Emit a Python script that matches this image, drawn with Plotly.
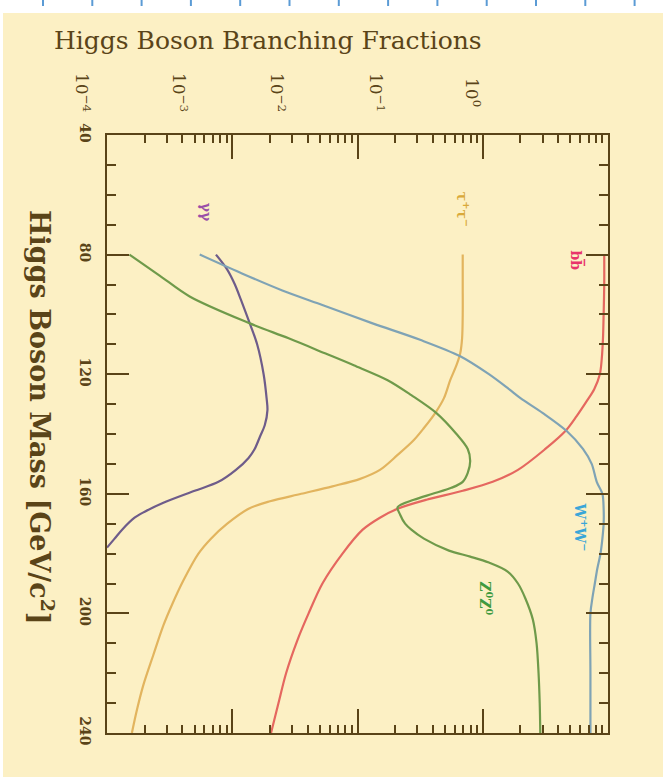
import math
import plotly.graph_objects as go

# Higgs mass (GeV/c^2) and branching fractions
mass_bb = [80, 90, 100, 108, 115, 120, 125, 129, 134, 139, 145, 152, 156, 159, 162, 165, 168, 172, 180, 190, 200, 209, 220, 230, 240]
bf_bb = [0.933, 0.933, 0.923, 0.912, 0.891, 0.861, 0.776, 0.676, 0.562, 0.457, 0.316, 0.191, 0.120, 0.0692, 0.0355,
         0.0209, 0.0151, 0.0110, 0.00759, 0.00525, 0.00407, 0.00331, 0.00269, 0.00234, 0.00204]

mass_tau = [80, 90, 100, 108, 113, 117, 122, 128, 133, 138, 142, 147, 152, 155, 157.5, 160, 162.5, 165, 170, 175,
            180, 189, 197, 204, 214, 224, 232, 240]
bf_tau = [0.0692, 0.0692, 0.0692, 0.0684, 0.0661, 0.0617, 0.0550, 0.0490, 0.0417, 0.0339, 0.0282, 0.0209, 0.0151,
          0.0105, 0.00631, 0.00355, 0.00200, 0.00135, 0.000912, 0.000676, 0.000537, 0.000407, 0.000331, 0.000282,
          0.000234, 0.000195, 0.000174, 0.000158]

mass_gg = [80, 85, 90, 95, 103, 110, 120, 128, 132, 137, 141, 145, 148, 152, 156, 159, 163, 166, 168, 172, 175, 178]
bf_gg = [0.000741, 0.000912, 0.00105, 0.00117, 0.00138, 0.00158, 0.00178, 0.00188, 0.00191, 0.00182, 0.00166,
         0.00151, 0.00135, 0.00107, 0.000776, 0.000501, 0.000282, 0.000200, 0.000166, 0.000132, 0.000115, 0.000100]

mass_ww = [80, 86, 92, 97, 103, 108.5, 114, 120, 125, 128, 133, 139, 145, 150, 156, 160, 165, 170, 175, 180, 185,
           190, 195, 200, 220, 240]
bf_ww = [0.000550, 0.00115, 0.00251, 0.00537, 0.0132, 0.0316, 0.0661, 0.112, 0.162, 0.200, 0.302, 0.468, 0.631,
         0.741, 0.813, 0.902, 0.923, 0.923, 0.902, 0.871, 0.822, 0.785, 0.750, 0.724, 0.724, 0.724]

mass_zz = [80, 87, 94, 103, 108, 113, 117, 122, 127, 133, 140, 145, 149, 153, 156, 158, 160, 162, 164.5, 167, 170,
           172, 175, 179, 181, 183, 186, 190, 195, 202, 210, 220, 230, 240]
bf_zz = [0.000151, 0.000263, 0.000457, 0.00138, 0.00282, 0.00550, 0.00933, 0.0174, 0.0269, 0.0427, 0.0617, 0.0759,
         0.0794, 0.0759, 0.0692, 0.0562, 0.0398, 0.0282, 0.0209, 0.0219, 0.0240, 0.0269, 0.0339, 0.0537, 0.0794,
         0.112, 0.158, 0.191, 0.219, 0.251, 0.269, 0.279, 0.285, 0.288]

mass_ticks = [40, 80, 120, 160, 200, 240]
bf_tick_text = ["10<sup>\u22124</sup>", "10<sup>\u22123</sup>", "10<sup>\u22122</sup>", "10<sup>\u22121</sup>", "10<sup>0</sup>"]

BG = "#fcf0c4"
INK = "#5a4418"

fig = go.Figure()
series = [
    (bf_bb, mass_bb, "#e5675f", "bb\u0305"),
    (bf_tau, mass_tau, "#e2b45e", "\u03c4\u207a\u03c4\u207b"),
    (bf_gg, mass_gg, "#6e5c8a", "\u03b3\u03b3"),
    (bf_ww, mass_ww, "#7fa3b5", "W\u207aW\u207b"),
    (bf_zz, mass_zz, "#6f9a4a", "Z\u2070Z\u2070"),
]
for xs, ys, col, name in series:
    fig.add_trace(go.Scatter(x=xs, y=ys, mode="lines", name=name,
                             line=dict(color=col, width=2.2, shape="spline", smoothing=0.9),
                             showlegend=False, cliponaxis=True))

axis_common = dict(showline=True, linecolor=INK, linewidth=2, mirror="allticks", ticks="inside",
                   tickcolor=INK, tickwidth=2, showgrid=False, zeroline=False)
fig.update_xaxes(type="log", range=[-4, 0], dtick=1, ticklen=24, showticklabels=False,
                 minor=dict(ticks="inside", ticklen=8, tickcolor=INK, tickwidth=2, dtick="D1", showgrid=False),
                 **axis_common)
fig.update_yaxes(range=[240, 40], tickvals=mass_ticks, ticklen=22, tickangle=90,
                 ticklabelstandoff=8,
                 tickfont=dict(family="DejaVu Serif", size=14, color=INK, weight="bold"),
                 minor=dict(ticks="inside", ticklen=9, tickcolor=INK, tickwidth=2, dtick=10, showgrid=False),
                 **axis_common)


def px_x(px):
    return (px - 107) / 501


def px_y(py):
    return (733 - py) / 598


# top tick labels (as printed, compressed relative to the axis)
label_px = [83, 180, 278, 377, 473]
for px, txt in zip(label_px, bf_tick_text):
    fig.add_annotation(text=txt, x=px_x(px), y=px_y(92), xref="paper", yref="paper",
                       xanchor="center", yanchor="middle",
                       showarrow=False, textangle=90,
                       font=dict(family="DejaVu Serif", size=17, color=INK))

# curve labels (positions in data coords)
curve_labels = [
    ("bb\u0305", 10 ** -0.247, 82, "#e8336b"),
    ("\u03c4<sup>+</sup>\u03c4<sup>\u2212</sup>", 10 ** -1.158, 65, "#d9a93a"),
    ("\u03b3\u03b3", 10 ** -3.21, 66, "#9a4fa8"),
    ("W<sup>+</sup>W<sup>\u2212</sup>", 10 ** -0.215, 171, "#3aa6d8"),
    ("Z<sup>0</sup>Z<sup>0</sup>", 10 ** -0.98, 195, "#3f9a3f"),
]
for txt, xv, yv, col in curve_labels:
    fig.add_annotation(text=txt, x=math.log10(xv), y=yv, showarrow=False, textangle=90,
                       xanchor="center", yanchor="middle",
                       font=dict(family="DejaVu Serif", size=14, color=col, weight="bold"))

fig.add_annotation(text="Higgs Boson Branching Fractions", x=px_x(268), y=px_y(40),
                   xref="paper", yref="paper", showarrow=False, xanchor="center", yanchor="middle",
                   font=dict(family="DejaVu Serif", size=25, color=INK))
fig.add_annotation(text="Higgs Boson Mass [GeV/c<sup>2</sup>]", x=px_x(42), y=px_y(417),
                   xref="paper", yref="paper", showarrow=False, textangle=90,
                   xanchor="center", yanchor="middle",
                   font=dict(family="DejaVu Serif", size=27, color=INK, weight="bold"))

# beige page
fig.add_shape(type="rect", xref="paper", yref="paper", x0=px_x(3), x1=px_x(663),
              y0=px_y(777), y1=px_y(13), fillcolor=BG, line=dict(width=0), layer="below")
# small blue marks along the top edge
for i in range(13):
    xp = 43 + 49.3 * i
    fig.add_shape(type="line", xref="paper", yref="paper", x0=px_x(xp), x1=px_x(xp),
                  y0=px_y(0), y1=px_y(6), line=dict(color="#5b9bd5", width=2))

fig.update_layout(width=671, height=782, margin=dict(l=107, r=63, t=135, b=49),
                  paper_bgcolor="white", plot_bgcolor=BG)
fig.write_html("out.html", config={"displayModeBar": False},
               post_script="document.body.style.margin='0px';document.body.style.padding='0px';")
